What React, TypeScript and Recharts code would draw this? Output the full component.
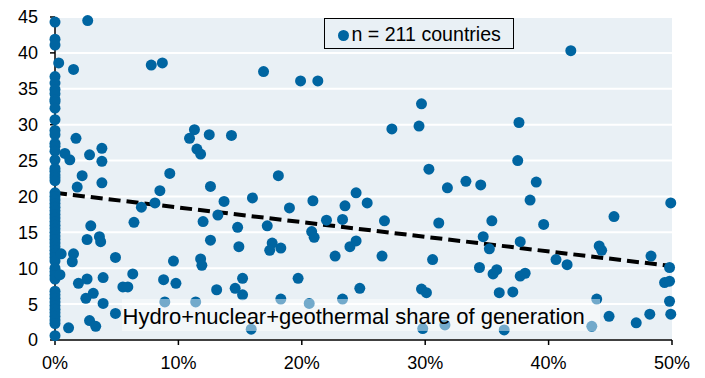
import React from 'react';
import { ScatterChart, Scatter, XAxis, YAxis, CartesianGrid, Legend } from 'recharts';

const FONT = '"Liberation Sans", Arial, Helvetica, sans-serif';
const BG = '#E9F0F5';
const DOT = '#0065A1';

// Countries with 0% hydro+nuclear+geothermal share (y values)
const zeroShareValues = [
  44.3, 41.9, 41.1, 36.7, 35.8, 34.9, 34.3, 33.5, 33.2, 32.3, 30.7, 29.2, 28.6, 27.4, 27.0, 26.3,
  25.1, 23.9, 23.5, 23.0, 22.6, 22.2, 20.5, 20.0, 19.5, 19.0, 18.5, 18.0, 17.5, 17.0, 16.5, 16.0,
  15.5, 15.0, 14.5, 14.0, 13.5, 13.0, 12.5, 12.0, 11.5, 11.0, 10.0, 9.5, 9.0, 8.5, 6.8, 6.3, 5.8,
  5.3, 4.8, 4.3, 3.8, 3.3, 2.8, 2.3, 0.6,
];

// Other countries: share of generation (%)
const countryShares = [
  2.65, 0.3, 1.5, 1.7, 0.8, 1.2, 2.8, 3.8, 3.8, 2.2, 1.8, 3.8, 7.8, 8.7, 10.9, 11.3, 12.5, 14.3,
  11.5, 11.8, 9.3, 8.5, 12.6,
  16.9, 19.9, 21.3, 29.7, 27.3, 29.5, 18.1, 30.3, 31.8, 33.3,
  41.8, 37.6, 37.5, 34.5, 39.0,
  0.5, 0.4, 1.5, 1.4, 1.1, 1.9, 2.6, 2.5, 3.1, 2.8, 3.3, 2.6, 2.9, 3.6, 3.7, 3.9, 3.9, 4.9, 4.9,
  5.5, 5.9, 6.3, 6.4, 7.0, 8.1, 8.8, 8.9, 9.6, 9.8, 11.4, 11.8, 11.9, 12.0, 12.6, 13.1, 13.2,
  13.7, 14.6, 14.8, 14.9,
  16.0, 17.2, 17.6, 17.4, 18.3, 19.0, 20.9, 20.8, 21.0, 22.0, 22.7, 23.3, 23.5, 24.4, 25.3,
  23.9, 24.4, 26.5, 26.7, 30.6, 31.1, 15.2, 15.2, 19.7, 18.3, 20.6, 23.3, 24.7, 29.7, 30.1,
  15.9, 29.8, 31.6,
  38.5, 39.6, 35.4, 34.7, 35.2, 37.7, 40.6, 41.5, 34.4, 35.5, 35.8, 37.7, 38.1, 36.0, 37.1,
  36.4, 44.1, 44.3, 43.9, 43.5, 44.9, 45.3, 47.1, 48.2, 48.3, 49.9, 49.8, 49.4, 49.8, 49.8, 49.9,
];

// Other countries: y values
const countryValues = [
  44.5, 38.6, 37.7, 28.1, 26.0, 25.1, 25.8, 26.7, 24.9, 22.9, 21.3, 21.9, 38.3, 38.6, 28.1, 29.3,
  28.6, 28.5, 26.6, 25.9, 23.2, 20.8, 21.4,
  37.4, 36.1, 36.1, 32.9, 29.4, 29.8, 22.9, 23.8, 21.2, 22.1,
  40.3, 30.3, 25.0, 21.6, 22.0,
  12.0, 9.1, 12.0, 10.9, 1.7, 7.9, 8.5, 5.8, 6.5, 2.7, 1.9, 14.0, 15.9, 14.4, 13.7, 8.7, 5.1, 3.7,
  11.5, 7.4, 7.4, 9.2, 16.4, 18.5, 19.1, 8.4, 5.3, 11.0, 7.9, 5.3, 11.3, 10.4, 16.5, 13.9, 7.0,
  17.4, 19.3, 7.2, 15.7, 13.0,
  19.8, 15.9, 13.5, 12.5, 12.8, 18.4, 19.4, 15.1, 14.3, 16.7, 11.7, 16.8, 18.7, 20.5, 19.1,
  13.0, 13.8, 11.7, 16.6, 11.2, 16.3, 8.6, 6.3, 8.6, 5.7, 5.1, 5.7, 7.2, 7.1, 6.6,
  1.5, 1.6, 2.1,
  19.5, 16.1, 16.6, 14.4, 12.7, 13.7, 11.2, 10.5, 10.1, 9.2, 9.8, 8.9, 9.3, 6.6, 6.7,
  1.4, 13.1, 12.5, 5.7, 1.9, 3.3, 17.2, 2.4, 3.6, 11.7, 19.1, 10.1, 8.0, 8.2, 5.4, 3.6,
];

const trendShares = [0, 50];
const trendValues = [20.5, 10.3];

const xTicks = [0, 10, 20, 30, 40, 50];
const yTicks = [0, 5, 10, 15, 20, 25, 30, 35, 40, 45];

const seriesName = 'n = 211 countries';
const axisLabel = 'Hydro+nuclear+geothermal share of generation';

const countryData = [
  ...zeroShareValues.map((y) => ({ x: 0, y })),
  ...countryShares.map((x, i) => ({ x, y: countryValues[i] })),
];
const trendData = trendShares.map((x, i) => ({ x, y: trendValues[i] }));

const Dot = (props: any) => <circle cx={props.cx} cy={props.cy} r={5.5} fill={DOT} />;
const NoDot = () => <g />;

const LegendBox = (props: any) => {
  const items = (props.payload || []).filter((p: any) => p.value === seriesName);
  return (
    <div
      style={{
        position: 'relative',
        width: 189.5,
        height: 30.5,
        boxSizing: 'border-box',
        border: '1.5px solid #000',
        background: BG,
        fontFamily: FONT,
      }}
    >
      {items.map((p: any) => (
        <React.Fragment key={p.value}>
          <span
            style={{
              position: 'absolute',
              left: 13.3,
              top: 10.7,
              width: 11,
              height: 11,
              borderRadius: '50%',
              background: DOT,
            }}
          />
          <span
            style={{
              position: 'absolute',
              left: 26.5,
              top: 4.9,
              fontSize: 19.6,
              lineHeight: '20px',
              whiteSpace: 'nowrap',
              color: '#000',
            }}
          >
            {p.value}
          </span>
        </React.Fragment>
      ))}
    </div>
  );
};

export default function App() {
  return (
    <div style={{ position: 'absolute', left: 0, top: 0, width: 705, height: 378, fontFamily: FONT, background: '#fff' }}>
      <ScatterChart width={705} height={378} margin={{ top: 17, right: 33, bottom: 0, left: 0 }}>
        <CartesianGrid vertical={false} fill={BG} fillOpacity={1} stroke="#fff" strokeWidth={2} />
        {/* axis lines drawn beneath the dots, as in the reference */}
        <CartesianGrid
          stroke="#000"
          strokeWidth={1.5}
          verticalCoordinatesGenerator={({ offset }: any) => [offset.left]}
          horizontalCoordinatesGenerator={({ offset }: any) => [offset.top + offset.height]}
        />
        <XAxis
          type="number"
          dataKey="x"
          domain={[0, 50]}
          ticks={xTicks}
          interval={0}
          tickFormatter={(v: number) => `${v}%`}
          height={38}
          tickSize={5}
          tickMargin={11}
          axisLine={false}
          tickLine={{ stroke: '#000', strokeWidth: 1.5 }}
          tick={{ fill: '#000', fontSize: 18, fontFamily: FONT }}
        />
        <YAxis
          type="number"
          dataKey="y"
          domain={[0, 45]}
          ticks={yTicks}
          interval={0}
          width={55}
          tickSize={5}
          tickMargin={12}
          axisLine={false}
          tickLine={{ stroke: '#000', strokeWidth: 1.5 }}
          tick={{ fill: '#000', fontSize: 18, fontFamily: FONT }}
        />
        <Scatter
          name="trend"
          data={trendData}
          legendType="none"
          line={{ stroke: '#000', strokeWidth: 4, strokeDasharray: '12 6' }}
          shape={NoDot}
          isAnimationActive={false}
        />
        <Scatter name={seriesName} data={countryData} fill={DOT} shape={Dot} isAnimationActive={false} />
        <Legend
          layout="vertical"
          align="center"
          verticalAlign="middle"
          content={LegendBox}
          wrapperStyle={{ left: 324, top: 18, width: 190, height: 31 }}
        />
      </ScatterChart>
      <div
        style={{
          position: 'absolute',
          left: 122,
          top: 299,
          width: 478,
          height: 32,
          background: 'rgba(255,255,255,0.45)',
          fontSize: 22,
          lineHeight: '35px',
          paddingLeft: 0.5,
          boxSizing: 'border-box',
          color: '#000',
          whiteSpace: 'nowrap',
          overflow: 'visible',
        }}
      >
        {axisLabel}
      </div>
    </div>
  );
}
